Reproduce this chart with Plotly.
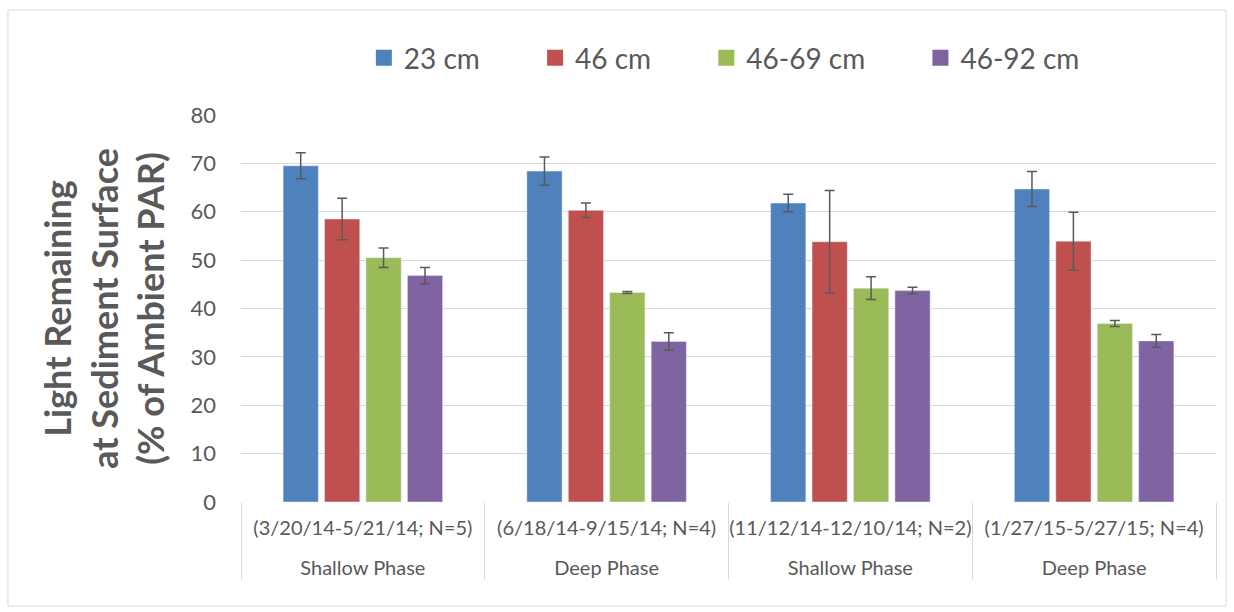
import plotly.graph_objects as go

phases = ["Shallow Phase", "Deep Phase", "Shallow Phase\u200b", "Deep Phase\u200b"]
periods = ["(3/20/14-5/21/14; N=5)", "(6/18/14-9/15/14; N=4)",
           "(11/12/14-12/10/14; N=2)", "(1/27/15-5/27/15; N=4)"]
series_names = ["23 cm", "46 cm", "46-69 cm", "46-92 cm"]
colors = ["#4F81BD", "#C0504D", "#9BBB59", "#8064A2"]

v23 = [69.5, 68.4, 61.8, 64.7]
v46 = [58.5, 60.3, 53.8, 53.9]
v4669 = [50.5, 43.3, 44.2, 36.9]
v4692 = [46.8, 33.2, 43.7, 33.3]
e23 = [2.7, 2.9, 1.8, 3.6]
e46 = [4.3, 1.5, 10.6, 6.0]
e4669 = [2.0, 0.2, 2.35, 0.6]
e4692 = [1.7, 1.8, 0.7, 1.3]

values = [v23, v46, v4669, v4692]
errors = [e23, e46, e4669, e4692]

font_family = "Lato, Open Sans, sans-serif"
txt = "#595959"
pad = "\u00a0" * 7

inner_labels = [p + "<br> " for p in periods]

fig = go.Figure()
for name, col, v, e in zip(series_names, colors, values, errors):
    fig.add_trace(go.Bar(
        x=[phases, inner_labels], y=v, name=name, showlegend=False,
        marker=dict(color=col),
        error_y=dict(type="data", array=e, visible=True, color="#595959",
                     thickness=1.5, width=5),
    ))
for i, (name, col) in enumerate(zip(series_names, colors)):
    fig.add_trace(go.Scatter(
        x=[[phases[0]], [inner_labels[0]]], y=[None], mode="markers",
        name=name + (pad if i < 3 else ""),
        marker=dict(color=col, symbol="square", size=18),
        showlegend=True, hoverinfo="skip",
    ))

fig.add_shape(type="rect", xref="paper", yref="paper",
              x0=-0.239, x1=1.0103, y0=-0.269, y1=1.271,
              line=dict(color="#d9d9d9", width=1))

fig.update_layout(
    width=1234, height=612,
    margin=dict(l=241, r=18, t=115, b=110, autoexpand=False),
    paper_bgcolor="white", plot_bgcolor="white",
    barmode="group", bargap=0.32, bargroupgap=0.15,
    font=dict(family=font_family, color=txt),
    legend=dict(orientation="h", x=0.126, xanchor="left", y=1.147,
                yanchor="middle", font=dict(size=28, color=txt),
                itemwidth=30, itemsizing="trace", traceorder="normal"),
    xaxis=dict(type="multicategory", showgrid=False, showline=False,
               ticks="", tickfont=dict(size=20, color=txt), tickangle=0,
               ticklabelstandoff=12, automargin=False,
               showdividers=True, dividercolor="#d9d9d9", dividerwidth=1),
    yaxis=dict(range=[0, 80], dtick=10, showgrid=True, gridcolor="#d9d9d9",
               gridwidth=1, zeroline=False, showline=False, ticks="",
               automargin=False,
               tickfont=dict(size=22, color=txt), ticklabelstandoff=24,
               title=dict(text="Light Remaining<br>at Sediment Surface<br>(% of Ambient PAR)",
                          font=dict(size=36, color=txt,
                                    family=font_family, weight="bold"),
                          standoff=14)),
)

fig.write_html("out.html")
